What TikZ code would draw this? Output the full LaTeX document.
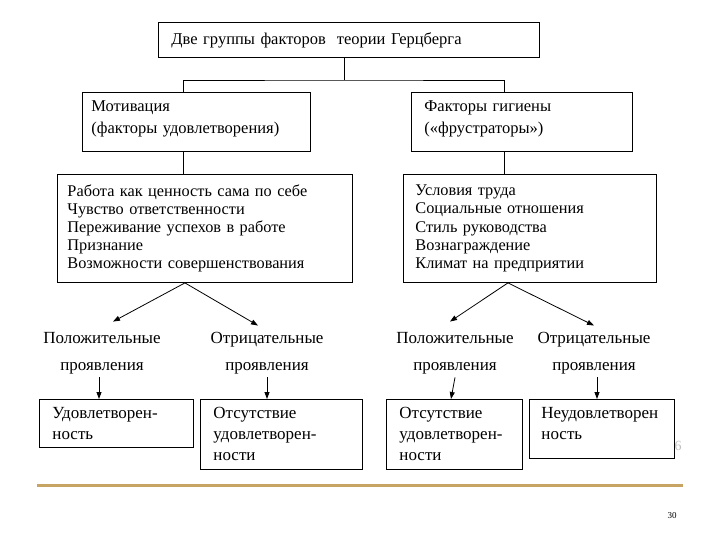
\documentclass[tikz,border=0pt]{standalone}
\usepackage{fontspec}
\setmainfont{Liberation Serif}
\usepackage{tikz}
\usetikzlibrary{arrows.meta, positioning, calc}
\definecolor{rulegold}{HTML}{C8A464}

\begin{document}
\begin{tikzpicture}[
    x=1pt, y=-1pt,
    every node/.style={font=\fontsize{16.5}{22}\selectfont},
    factorbox/.style={rectangle, draw=black, line width=0.9pt,
                      anchor=north west, align=left,
                      inner xsep=10pt, inner ysep=2pt},
    listtext/.style={font=\fontsize{16.3}{18.2}\selectfont},
    resulttext/.style={font=\fontsize{17}{21}\selectfont},
    outcome/.style={align=center, font=\fontsize{17}{27}\selectfont},
    arrow/.style={-{Triangle[length=7pt,width=5pt]}, line width=0.8pt},
    link/.style={line width=0.8pt}
]
\useasboundingbox (0,0) rectangle (720,540);

% Title
\node[factorbox, text width=355pt, minimum height=35pt, inner xsep=13pt] (title)
    at (158,22) {Две группы факторов\ \ теории Герцберга};

% Factor groups
\node[factorbox, text width=210pt, minimum height=59pt, inner xsep=9pt,
      text depth=31pt] (motiv)
    at (82,92) {Мотивация\\(факторы удовлетворения)};
\node[factorbox, text width=195pt, minimum height=59pt, inner xsep=13pt,
      text depth=31pt] (hyg)
    at (411,92) {Факторы гигиены\\(«фрустраторы»)};

% Factor lists
\node[factorbox, listtext, text width=275pt, minimum height=108pt] (mlist)
    at (57,174) {Работа как ценность сама по себе\\
                 Чувство ответственности\\
                 Переживание успехов в работе\\
                 Признание\\
                 Возможности совершенствования};
\node[factorbox, listtext, text width=229pt, minimum height=108pt, inner xsep=12pt] (hlist)
    at (403,174) {Условия труда\\
                  Социальные отношения\\
                  Стиль руководства\\
                  Вознаграждение\\
                  Климат на предприятии};

% Connectors
\coordinate (bus) at (344,80);
\draw[link] (title.south -| bus) -- (bus);
\draw[link] ([xshift=-13pt]motiv.north) |- (bus) -| ([xshift=-17.5pt]hyg.north);
\draw[link] ([xshift=-13pt]motiv.south) -- ([xshift=-13pt]motiv.south |- mlist.north);
\draw[link] ([xshift=-17.5pt]hyg.south) -- ([xshift=-17.5pt]hyg.south |- hlist.north);

% Manifestations
\node[outcome] (mpos) at (102,353) {Положительные\\проявления};
\node[outcome] (mneg) at (267,353) {Отрицательные\\проявления};
\node[outcome] (hpos) at (455,353) {Положительные\\проявления};
\node[outcome] (hneg) at (594,353) {Отрицательные\\проявления};

\coordinate (mfork) at ([xshift=-20pt]mlist.south);
\coordinate (hfork) at ([xshift=-22pt]hlist.south);
\draw[arrow] (mfork) -- ([shift={(11pt,7pt)}]mpos.north);
\draw[arrow] (mfork) -- ([shift={(-9pt,3pt)}]mneg.north);
\draw[arrow] (hfork) -- ([shift={(-5pt,7pt)}]hpos.north);
\draw[arrow] (hfork) -- ([shift={(0pt,3pt)}]hneg.north);

% Results
\node[factorbox, resulttext, text width=128pt, minimum height=48pt, inner xsep=13pt] (mres)
    at (39,399) {Удовлетворен-\\ность};
\node[factorbox, resulttext, text width=136pt, minimum height=70pt, inner xsep=13pt] (mlack)
    at (200,399) {Отсутствие\\удовлетворен-\\ности};
\node[factorbox, resulttext, text width=110pt, minimum height=70pt, inner xsep=13pt] (hlack)
    at (386,399) {Отсутствие\\удовлетворен-\\ности};
\node[factorbox, resulttext, text width=121pt, minimum height=59pt, inner xsep=12pt,
      text depth=33pt] (hres)
    at (529,399) {Неудовлетворен\\ность};

\draw[arrow] ([xshift=-3pt]mpos.south) -- ([xshift=-3pt]mpos.south |- mres.north);
\draw[arrow] (mneg.south) -- (mneg.south |- mlack.north);
\draw[arrow] (hpos.south) -- ([xshift=-4pt]hpos.south |- hlack.north);
\draw[arrow] ([xshift=3pt]hneg.south) -- ([xshift=3pt]hneg.south |- hres.north);

% Slide footer
\draw[rulegold, line width=3pt] (37,485) -- (683,485);
\node[font=\fontsize{9}{10}\selectfont] (pagenum) at (672,516) {30};
\node[text=black!25, font=\fontsize{14}{14}\selectfont] (ghost) at (678,446) {6};

\end{tikzpicture}
\end{document}
